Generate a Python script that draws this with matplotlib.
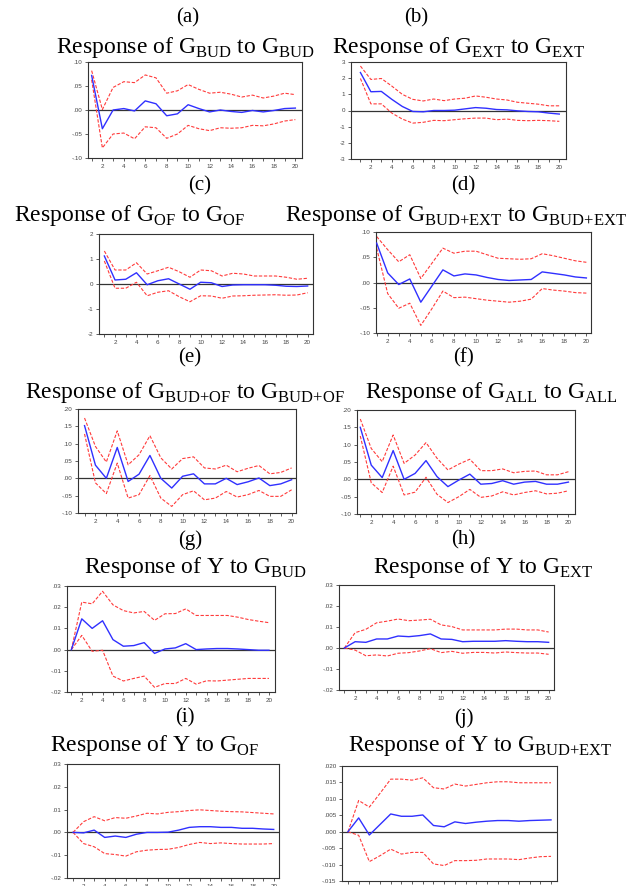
import matplotlib
matplotlib.use("Agg")
import matplotlib.pyplot as plt
import numpy as np

plt.rcParams["font.family"] = ["Liberation Serif", "DejaVu Serif"]
plt.rcParams["mathtext.fontset"] = "custom"
plt.rcParams["mathtext.rm"] = "Liberation Serif"

W, H = 633, 886
steps = np.arange(1, 21)

# impulse responses (blue) and +/- 2 S.E. bands (red)
a_resp = [0.072, -0.039, 0.000, 0.003, -0.002, 0.019, 0.013, -0.012, -0.008, 0.011,
          0.003, -0.004, 0.000, -0.003, -0.005, -0.001, -0.004, -0.001, 0.003, 0.004]
a_up = [0.082, 0.001, 0.047, 0.059, 0.057, 0.073, 0.067, 0.035, 0.040, 0.053,
        0.043, 0.035, 0.037, 0.033, 0.027, 0.031, 0.025, 0.029, 0.035, 0.032]
a_lo = [0.063, -0.079, -0.050, -0.048, -0.060, -0.035, -0.037, -0.059, -0.050, -0.032,
        -0.039, -0.043, -0.037, -0.038, -0.037, -0.032, -0.033, -0.029, -0.023, -0.020]

b_resp = [2.35, 1.16, 1.18, 0.69, 0.25, -0.06, -0.08, 0.0, 0.0, 0.02,
          0.10, 0.18, 0.14, 0.06, 0.04, -0.02, -0.06, -0.08, -0.16, -0.22]
b_up = [2.75, 1.92, 1.98, 1.51, 1.00, 0.69, 0.59, 0.71, 0.61, 0.71,
        0.76, 0.90, 0.82, 0.71, 0.65, 0.51, 0.45, 0.39, 0.29, 0.29]
b_lo = [1.98, 0.41, 0.41, -0.16, -0.53, -0.78, -0.73, -0.61, -0.63, -0.57,
        -0.51, -0.47, -0.47, -0.57, -0.53, -0.61, -0.63, -0.61, -0.63, -0.67]

c_resp = [1.12, 0.16, 0.19, 0.45, -0.03, 0.13, 0.21, 0.00, -0.21, 0.07,
          0.05, -0.10, -0.04, -0.03, -0.03, -0.03, -0.05, -0.09, -0.10, -0.08]
c_up = [1.32, 0.56, 0.56, 0.85, 0.40, 0.53, 0.67, 0.49, 0.27, 0.56,
        0.53, 0.32, 0.43, 0.40, 0.32, 0.32, 0.32, 0.27, 0.19, 0.23]
c_lo = [0.92, -0.17, -0.17, 0.07, -0.47, -0.33, -0.27, -0.51, -0.71, -0.47,
        -0.48, -0.57, -0.48, -0.47, -0.45, -0.44, -0.43, -0.45, -0.44, -0.35]

d_resp = [0.078, 0.019, -0.004, 0.007, -0.039, -0.007, 0.025, 0.013, 0.017, 0.015,
          0.010, 0.006, 0.004, 0.005, 0.006, 0.021, 0.018, 0.015, 0.011, 0.009]
d_up = [0.091, 0.065, 0.041, 0.055, 0.008, 0.038, 0.068, 0.058, 0.062, 0.062,
        0.055, 0.048, 0.047, 0.046, 0.047, 0.057, 0.053, 0.048, 0.043, 0.040]
d_lo = [0.068, -0.022, -0.051, -0.041, -0.085, -0.052, -0.017, -0.030, -0.029, -0.032,
        -0.035, -0.037, -0.039, -0.037, -0.033, -0.012, -0.015, -0.017, -0.020, -0.021]

e_resp = [0.152, 0.038, 0.000, 0.089, -0.009, 0.012, 0.066, 0.000, -0.028, 0.006,
          0.013, -0.016, -0.016, 0.000, -0.018, -0.010, 0.001, -0.021, -0.016, -0.004]
e_up = [0.174, 0.092, 0.047, 0.137, 0.039, 0.068, 0.123, 0.059, 0.027, 0.057,
        0.062, 0.030, 0.027, 0.038, 0.019, 0.029, 0.037, 0.013, 0.017, 0.030]
e_lo = [0.128, -0.013, -0.044, 0.044, -0.057, -0.047, 0.008, -0.057, -0.081, -0.047,
        -0.036, -0.062, -0.057, -0.038, -0.054, -0.047, -0.035, -0.052, -0.052, -0.033]

f_resp = [0.150, 0.041, 0.005, 0.083, 0.000, 0.017, 0.054, 0.008, -0.021, -0.002,
          0.015, -0.014, -0.012, -0.004, -0.014, -0.008, -0.006, -0.014, -0.014, -0.008]
f_up = [0.174, 0.089, 0.051, 0.128, 0.046, 0.070, 0.106, 0.061, 0.027, 0.044,
        0.058, 0.025, 0.025, 0.030, 0.019, 0.023, 0.024, 0.013, 0.013, 0.022]
f_lo = [0.125, -0.010, -0.038, 0.038, -0.045, -0.037, 0.006, -0.043, -0.067, -0.050,
        -0.029, -0.052, -0.048, -0.036, -0.045, -0.038, -0.033, -0.042, -0.040, -0.033]

g_resp = [0.0, 0.0145, 0.0100, 0.0136, 0.0047, 0.0016, 0.0019, 0.0033, -0.0018, 0.0003,
          0.0008, 0.0028, 0.0000, 0.0003, 0.0005, 0.0005, 0.0003, 0.0000, -0.0003, -0.0003]
g_up = [0.0, 0.0224, 0.0216, 0.0275, 0.0211, 0.0184, 0.0173, 0.0180, 0.0138, 0.0169,
        0.0170, 0.0192, 0.0161, 0.0161, 0.0161, 0.0161, 0.0153, 0.0142, 0.0134, 0.0127]
g_lo = [0.0, 0.0067, -0.0008, -0.0003, -0.0125, -0.0148, -0.0136, -0.0125, -0.0178, -0.0160,
        -0.0160, -0.0136, -0.0163, -0.0147, -0.0148, -0.0144, -0.0140, -0.0136, -0.0136, -0.0136]

h_resp = [0.0, 0.0030, 0.0027, 0.0043, 0.0043, 0.0057, 0.0054, 0.0059, 0.0067, 0.0043,
          0.0041, 0.0030, 0.0032, 0.0032, 0.0032, 0.0035, 0.0032, 0.0030, 0.0030, 0.0027]
h_up = [0.0, 0.0073, 0.0089, 0.0120, 0.0128, 0.0138, 0.0130, 0.0133, 0.0137, 0.0110,
        0.0102, 0.0086, 0.0086, 0.0086, 0.0086, 0.0090, 0.0090, 0.0086, 0.0086, 0.0076]
h_lo = [0.0, -0.0010, -0.0037, -0.0033, -0.0038, -0.0025, -0.0022, -0.0014, -0.0003, -0.0022,
        -0.0016, -0.0025, -0.0021, -0.0021, -0.0024, -0.0019, -0.0022, -0.0024, -0.0024, -0.0030]

i_resp = [0.0, -0.0002, 0.0010, -0.0022, -0.0016, -0.0022, -0.0008, 0.0000, 0.0000, 0.0001,
          0.0010, 0.0022, 0.0025, 0.0025, 0.0022, 0.0022, 0.0018, 0.0018, 0.0015, 0.0013]
i_up = [0.0, 0.0047, 0.0069, 0.0051, 0.0065, 0.0062, 0.0072, 0.0084, 0.0081, 0.0088,
        0.0091, 0.0096, 0.0099, 0.0096, 0.0093, 0.0091, 0.0090, 0.0087, 0.0084, 0.0081]
i_lo = [0.0, -0.0049, -0.0063, -0.0093, -0.0097, -0.0104, -0.0085, -0.0078, -0.0075, -0.0074,
        -0.0066, -0.0053, -0.0044, -0.0049, -0.0046, -0.0049, -0.0051, -0.0051, -0.0051, -0.0049]

j_resp = [0.0, 0.0042, -0.0010, 0.0022, 0.0054, 0.0047, 0.0047, 0.0051, 0.0019, 0.0015,
          0.0030, 0.0025, 0.0029, 0.0032, 0.0034, 0.0034, 0.0032, 0.0034, 0.0035, 0.0036]
j_up = [0.0, 0.0095, 0.0075, 0.0117, 0.0160, 0.0160, 0.0157, 0.0164, 0.0134, 0.0130,
        0.0145, 0.0139, 0.0144, 0.0149, 0.0152, 0.0152, 0.0149, 0.0149, 0.0149, 0.0149]
j_lo = [0.0, -0.0011, -0.0091, -0.0073, -0.0053, -0.0068, -0.0063, -0.0063, -0.0098, -0.0103,
        -0.0088, -0.0088, -0.0087, -0.0083, -0.0083, -0.0083, -0.0085, -0.0080, -0.0076, -0.0075]

letters = ["(a)", "(b)", "(c)", "(d)", "(e)", "(f)", "(g)", "(h)", "(i)", "(j)"]
titles = [
    r"Response of G$_{\mathrm{BUD}}$ to G$_{\mathrm{BUD}}$",
    r"Response of G$_{\mathrm{EXT}}$ to G$_{\mathrm{EXT}}$",
    r"Response of G$_{\mathrm{OF}}$ to G$_{\mathrm{OF}}$",
    r"Response of G$_{\mathrm{BUD{+}EXT}}$ to G$_{\mathrm{BUD{+}EXT}}$",
    r"Response of G$_{\mathrm{BUD{+}OF}}$ to G$_{\mathrm{BUD{+}OF}}$",
    r"Response of G$_{\mathrm{ALL}}$ to G$_{\mathrm{ALL}}$",
    r"Response of Y to G$_{\mathrm{BUD}}$",
    r"Response of Y to G$_{\mathrm{EXT}}$",
    r"Response of Y to G$_{\mathrm{OF}}$",
    r"Response of Y to G$_{\mathrm{BUD{+}EXT}}$",
]
series = [
    (a_resp, a_up, a_lo), (b_resp, b_up, b_lo), (c_resp, c_up, c_lo),
    (d_resp, d_up, d_lo), (e_resp, e_up, e_lo), (f_resp, f_up, f_lo),
    (g_resp, g_up, g_lo), (h_resp, h_up, h_lo), (i_resp, i_up, i_lo),
    (j_resp, j_up, j_lo),
]
y_ticks = [
    [-0.10, -0.05, 0.0, 0.05, 0.10],
    [-3, -2, -1, 0, 1, 2, 3],
    [-2, -1, 0, 1, 2],
    [-0.10, -0.05, 0.0, 0.05, 0.10],
    [-0.10, -0.05, 0.0, 0.05, 0.10, 0.15, 0.20],
    [-0.10, -0.05, 0.0, 0.05, 0.10, 0.15, 0.20],
    [-0.02, -0.01, 0.0, 0.01, 0.02, 0.03],
    [-0.02, -0.01, 0.0, 0.01, 0.02, 0.03],
    [-0.02, -0.01, 0.0, 0.01, 0.02, 0.03],
    [-0.015, -0.010, -0.005, 0.0, 0.005, 0.010, 0.015, 0.020],
]
y_fmt = ["%.2f", "%d", "%d", "%.2f", "%.2f", "%.2f", "%.2f", "%.2f", "%.2f", "%.3f"]

# panel boxes in pixels: left, top, right, bottom ; x-limits
boxes = [
    (88, 62, 302, 158), (351, 62, 566, 159),
    (99, 234, 313, 334), (376, 232, 591, 333),
    (78, 409, 296, 513), (357, 410, 575, 514),
    (67, 586, 275, 692), (339, 585, 554, 690),
    (67, 764, 279, 878), (342, 766, 557, 881),
]
xlims = [(0.66, 20.62), (0.1, 20.64), (0.5, 20.5), (0.94, 20.42), (0.4, 20.4),
         (0.7, 20.6), (0.58, 20.58), (0.5, 20.5), (0.43, 20.5), (0.44, 20.56)]
# letter label (x, y) and title (x, y) centres in pixels
letter_pos = [(188, 18), (416, 18), (200, 186), (463, 186), (190, 358),
              (463, 358), (190, 540), (463, 540), (185, 718), (464, 718)]
title_pos = [(185, 47), (459, 47), (130, 216), (456, 216), (185, 392),
             (491, 392), (195, 568), (483, 568), (155, 746), (480, 746)]


def tick_label(v, fmt):
    s = fmt % v
    if fmt != "%d":
        s = s.replace("0.", ".", 1)
    return s


fig = plt.figure(figsize=(W / 100, H / 100), dpi=100)

for k in range(10):
    l, t, r, b = boxes[k]
    ax = fig.add_axes([l / W, 1 - b / H, (r - l) / W, (b - t) / H])
    resp, up, lo = series[k]
    ax.axhline(0, color="#333333", lw=0.9, zorder=1)
    ax.plot(steps, up, color="#ff3b3b", lw=0.8, ls=(0, (3, 1.5)), zorder=2)
    ax.plot(steps, lo, color="#ff3b3b", lw=0.8, ls=(0, (3, 1.5)), zorder=2)
    ax.plot(steps, resp, color="#3030ff", lw=1.0, zorder=3)
    ax.set_xlim(*xlims[k])
    yt = y_ticks[k]
    ax.set_ylim(yt[0], yt[-1])
    ax.set_yticks(yt)
    ax.set_yticklabels([tick_label(v, y_fmt[k]) for v in yt])
    ax.set_xticks(np.arange(2, 21, 2))
    ax.set_xticks(steps, minor=True)
    ax.tick_params(axis="both", which="both", direction="out", labelsize=4.5,
                   length=2.5, width=0.6, colors="#444444", pad=1.5)
    ax.tick_params(axis="x", which="minor", length=2.5)
    for lab in ax.get_xticklabels() + ax.get_yticklabels():
        lab.set_family(["Liberation Sans", "DejaVu Sans"])
    for sp in ax.spines.values():
        sp.set_linewidth(0.8)
        sp.set_color("#333333")

    lx, ly = letter_pos[k]
    fig.text(lx / W, 1 - ly / H, letters[k], ha="center", va="center", fontsize=15)
    tx, ty = title_pos[k]
    fig.text(tx / W, 1 - ty / H, titles[k], ha="center", va="center", fontsize=17)

fig.savefig("out.png", dpi=100)
